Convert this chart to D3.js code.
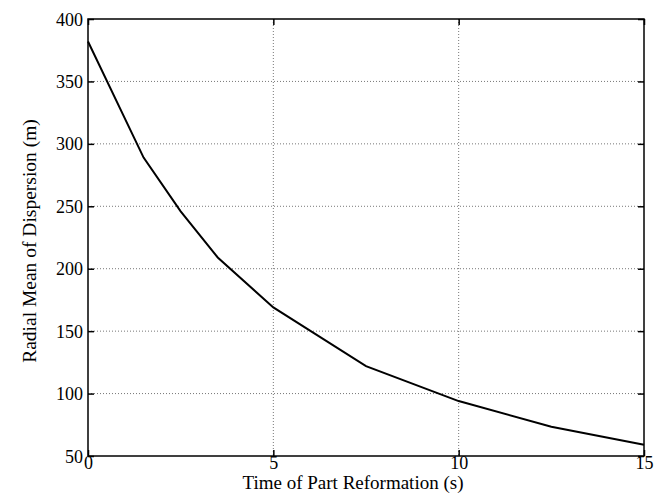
<!DOCTYPE html>
<html><head><meta charset="utf-8">
<script src="https://cdn.jsdelivr.net/npm/d3@7"></script>
<style>body{margin:0;background:#fff}svg{display:block}text{font-family:"Liberation Serif","Times New Roman",serif;fill:#000}</style>
</head><body>
<svg id="c" width="664" height="502"></svg>
<script>
const timeS = [0, 1.5, 2.5, 3.5, 5, 7.5, 10, 12.5, 15];
const radialMean = [382, 289, 246, 209, 169, 122, 94, 73.5, 59];
const xTicks = [0, 5, 10, 15];
const yTicks = [50, 100, 150, 200, 250, 300, 350, 400];

const svg = d3.select("#c");
const L = 88, R = 644, T = 19, B = 456;
const x = d3.scaleLinear().domain([0, 15]).range([L, R]);
const y = d3.scaleLinear().domain([50, 400]).range([B, T]);

// grid
const g = svg.append("g");
g.selectAll(".gx").data(xTicks.slice(1, -1)).enter().append("line")
  .attr("x1", d => x(d)).attr("x2", d => x(d)).attr("y1", T).attr("y2", B)
  .attr("stroke", "#777").attr("stroke-width", 1).attr("stroke-dasharray", "1,2");
g.selectAll(".gy").data(yTicks.slice(1, -1)).enter().append("line")
  .attr("y1", d => y(d)).attr("y2", d => y(d)).attr("x1", L).attr("x2", R)
  .attr("stroke", "#777").attr("stroke-width", 1).attr("stroke-dasharray", "1,2");

// axes with inward ticks
const tk = 6;
svg.append("g").attr("transform", `translate(0,${B})`)
  .call(d3.axisBottom(x).tickValues(xTicks).tickSizeInner(-tk).tickSizeOuter(0).tickFormat(d3.format("d")))
  .call(a => a.select(".domain").remove())
  .call(a => a.selectAll("text").attr("y", 13).attr("dy", 0));
svg.append("g").attr("transform", `translate(0,${T})`)
  .call(d3.axisTop(x).tickValues(xTicks).tickSizeInner(-tk).tickSizeOuter(0).tickFormat(""))
  .call(a => a.select(".domain").remove());
svg.append("g").attr("transform", `translate(${L},0)`)
  .call(d3.axisLeft(y).tickValues(yTicks).tickSizeInner(-tk).tickSizeOuter(0).tickFormat(d3.format("d")))
  .call(a => a.select(".domain").remove())
  .call(a => a.selectAll("text").attr("x", -5).attr("dy", "0.34em"));
svg.append("g").attr("transform", `translate(${R},0)`)
  .call(d3.axisRight(y).tickValues(yTicks).tickSizeInner(-tk).tickSizeOuter(0).tickFormat(""))
  .call(a => a.select(".domain").remove());
svg.selectAll(".tick line").attr("stroke", "#000").attr("stroke-width", 1.5);
svg.selectAll(".tick text").style("font-family", '"Liberation Serif",serif').style("font-size", "18px").attr("fill", "#000");

// box
svg.append("rect").attr("x", L).attr("y", T).attr("width", R - L).attr("height", B - T)
  .attr("fill", "none").attr("stroke", "#000").attr("stroke-width", 1.5);

// line
svg.append("path").datum(timeS.map((t, i) => [t, radialMean[i]]))
  .attr("d", d3.line().x(d => x(d[0])).y(d => y(d[1])))
  .attr("fill", "none").attr("stroke", "#000").attr("stroke-width", 2);

// labels
svg.append("text").attr("x", 353).attr("y", 489).attr("text-anchor", "middle")
  .style("font-size", "19px").text("Time of Part Reformation (s)");
svg.append("text").attr("transform", "translate(36,241) rotate(-90)").attr("text-anchor", "middle")
  .style("font-size", "19.5px").text("Radial Mean of Dispersion (m)");
</script>
</body></html>
